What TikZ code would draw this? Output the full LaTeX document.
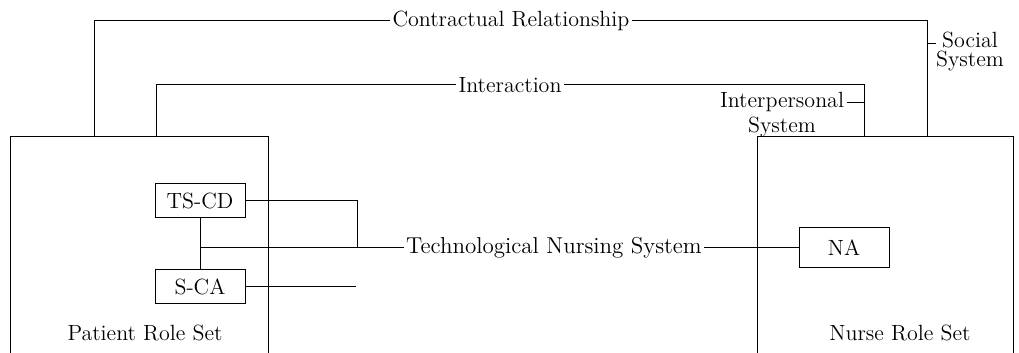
\documentclass[tikz,border=0pt]{standalone}
\usetikzlibrary{positioning}

\begin{document}
\begin{tikzpicture}[x=0.5pt,y=-0.5pt,line width=0.5pt,node distance=43pt,on grid,
    box/.style={draw,minimum width=45pt,minimum height=17pt,inner sep=1pt,font=\fontsize{11}{13}\selectfont},
    lbl/.style={inner sep=1pt,font=\fontsize{11}{13}\selectfont}]
    \useasboundingbox (0,0) rectangle (1019,353);

    % role sets (open at the bottom)
    \coordinate (pBL) at (10,353);
    \coordinate (pTL) at (10,137);
    \coordinate (pTR) at (268,137);
    \coordinate (pBR) at (268,353);
    \coordinate (nBL) at (757,353);
    \coordinate (nTL) at (757,137);
    \coordinate (nTR) at (1013,137);
    \coordinate (nBR) at (1013,353);
    \draw (pBL) -- (pTL) -- (pTR) -- (pBR);
    \draw (nBL) -- (nTL) -- (nTR) -- (nBR);
    \node[lbl] (patient) at (145,333) {Patient Role Set};
    \node[lbl] (nurse)   at (900,333) {Nurse Role Set};

    % social system
    \node[lbl] (contract) at (511,21) {Contractual Relationship};
    \coordinate (cL) at (94,137);
    \coordinate (cR) at (927,137);
    \draw (cL) |- (contract.west);
    \draw (contract.east) -| (cR);
    \node[lbl,inner sep=0pt,align=center,font=\fontsize{11}{9.5}\selectfont] (social) at (970,52) {Social\\System};
    \coordinate (sTick) at (927,44);
    \draw (sTick) -- (sTick -| social.west);

    % interpersonal system
    \node[lbl] (interact) at (510,85) {Interaction};
    \coordinate (iL) at (156,137);
    \coordinate (iR) at (864,137);
    \draw (iL) |- (interact.west);
    \draw (interact.east) -| (iR);
    \node[lbl,align=center,font=\fontsize{11}{12.5}\selectfont] (interp) at (782,115) {Interpersonal\\System};
    \coordinate (ipTick) at (864,103);
    \draw (ipTick) -- (ipTick -| interp.east);

    % technological nursing system
    \node[box] (tscd) at (200,201) {TS-CD};
    \node[box] (sca) [below=43pt of tscd] {S-CA};
    \node[box,minimum height=20pt] (na) at (844,247.5) {NA};
    \node[lbl,font=\fontsize{11.5}{13}\selectfont] (tech) at (554,247.5) {Technological Nursing System};
    \coordinate (stem) at (200,247.5);
    \coordinate (bTop) at (357,201);
    \coordinate (bMid) at (357,247.5);
    \draw (tscd.south) -- (sca.north);
    \draw (tscd.east) -- (bTop) -- (bMid);
    \draw (stem) -- (bMid);
    \draw (bMid) -- (tech.west);
    \draw (sca.east) -- ++(110,0) coordinate (scaEnd);
    \draw (tech.east) -- (na.west);
\end{tikzpicture}
\end{document}
